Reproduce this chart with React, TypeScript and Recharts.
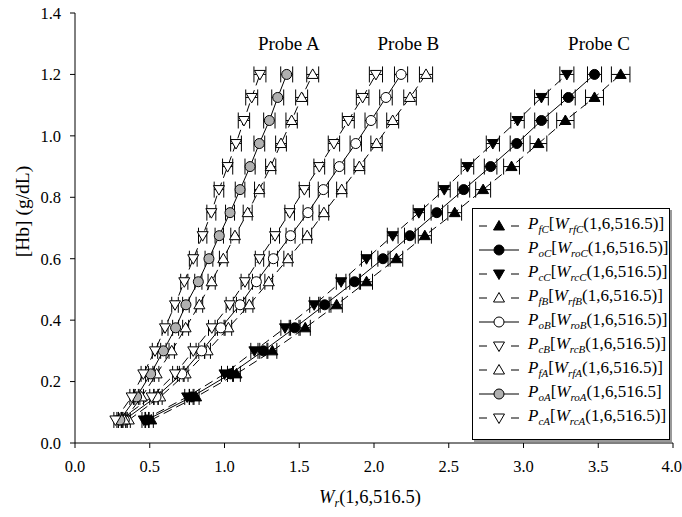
import React from 'react';
import { ScatterChart, Scatter, XAxis, YAxis, ErrorBar, Legend, ReferenceDot } from 'recharts';

const FONT = "'Liberation Serif', 'Times New Roman', serif";

// [Hb] levels (g/dL)
const hbLevels = [0.075, 0.15, 0.225, 0.3, 0.375, 0.45, 0.525, 0.6, 0.675, 0.75, 0.825, 0.9, 0.975, 1.05, 1.125, 1.2];

// Probe C
const wrfC = [0.51, 0.81, 1.08, 1.32, 1.54, 1.75, 1.95, 2.15, 2.34, 2.54, 2.73, 2.92, 3.10, 3.28, 3.475, 3.65];
const wroC = [0.48, 0.78, 1.04, 1.26, 1.47, 1.67, 1.87, 2.06, 2.24, 2.42, 2.60, 2.78, 2.955, 3.12, 3.30, 3.475];
const wrcC = [0.46, 0.75, 1.00, 1.20, 1.405, 1.60, 1.78, 1.95, 2.125, 2.30, 2.47, 2.625, 2.795, 2.96, 3.12, 3.29];
// Probe B
const wrfB = [0.36, 0.57, 0.74, 0.887, 1.026, 1.166, 1.296, 1.425, 1.553, 1.665, 1.784, 1.902, 2.017, 2.125, 2.241, 2.348];
const wroB = [0.33, 0.542, 0.714, 0.847, 0.975, 1.104, 1.213, 1.327, 1.442, 1.558, 1.661, 1.768, 1.878, 1.98, 2.08, 2.181];
const wrcB = [0.30, 0.513, 0.669, 0.791, 0.915, 1.035, 1.137, 1.234, 1.338, 1.436, 1.534, 1.634, 1.732, 1.828, 1.924, 2.013];
// Probe A
const wrfA = [0.33, 0.446, 0.546, 0.647, 0.74, 0.832, 0.914, 0.992, 1.07, 1.155, 1.233, 1.309, 1.378, 1.449, 1.516, 1.59];
const wroA = [0.30, 0.412, 0.506, 0.591, 0.673, 0.742, 0.825, 0.896, 0.965, 1.037, 1.104, 1.171, 1.233, 1.30, 1.356, 1.416];
const wrcA = [0.27, 0.379, 0.457, 0.535, 0.602, 0.669, 0.731, 0.791, 0.854, 0.912, 0.963, 1.021, 1.077, 1.13, 1.182, 1.237];

// horizontal error half-widths
const errA = [0.01, 0.012, 0.015, 0.018, 0.02, 0.022, 0.024, 0.026, 0.028, 0.03, 0.032, 0.034, 0.036, 0.038, 0.04, 0.04];
const errB = [0.01, 0.013, 0.016, 0.019, 0.022, 0.024, 0.026, 0.028, 0.03, 0.032, 0.034, 0.036, 0.038, 0.04, 0.042, 0.044];
const errC = [0.012, 0.016, 0.02, 0.024, 0.028, 0.03, 0.032, 0.034, 0.036, 0.038, 0.04, 0.042, 0.044, 0.045, 0.046, 0.047];
const errCf = [0.014, 0.02, 0.026, 0.03, 0.034, 0.038, 0.04, 0.042, 0.044, 0.046, 0.05, 0.053, 0.056, 0.058, 0.06, 0.062];

const xTicks = [0, 0.5, 1, 1.5, 2, 2.5, 3, 3.5, 4];
const yTicks = [0, 0.2, 0.4, 0.6, 0.8, 1.0, 1.2, 1.4];

const probeNames = ['Probe A', 'Probe B', 'Probe C'];
const probeLabelX = [1.43, 2.23, 3.505];
const probeLabelY = 1.30;

const legendSubs = ['fC', 'oC', 'cC', 'fB', 'oB', 'cB', 'fA', 'oA', 'cA'];
const legendTails = ['(1,6,516.5)]', '(1,6,516.5)]', '(1,6,516.5)]', '(1,6,516.5)]', '(1,6,516.5)]', '(1,6,516.5)]', '(1,6,516.5)]', '(1,6,516.5]', '(1,6,516.5)]'];

type Kind = 'up' | 'down' | 'circle';

const seriesDefs: { xs: number[]; err: number[]; kind: Kind; fill: string; dashed: boolean }[] = [
  { xs: wrfC, err: errCf, kind: 'up', fill: '#000', dashed: true },
  { xs: wroC, err: errC, kind: 'circle', fill: '#000', dashed: false },
  { xs: wrcC, err: errC, kind: 'down', fill: '#000', dashed: true },
  { xs: wrfB, err: errB, kind: 'up', fill: '#fff', dashed: true },
  { xs: wroB, err: errB, kind: 'circle', fill: '#fff', dashed: false },
  { xs: wrcB, err: errB, kind: 'down', fill: '#fff', dashed: true },
  { xs: wrfA, err: errA, kind: 'up', fill: '#fff', dashed: true },
  { xs: wroA, err: errA, kind: 'circle', fill: '#b0b0b0', dashed: false },
  { xs: wrcA, err: errA, kind: 'down', fill: '#fff', dashed: true },
];

function Marker({ cx, cy, kind, fill }: { cx: number; cy: number; kind: Kind; fill: string }) {
  if (cx == null || cy == null || isNaN(cx) || isNaN(cy)) return null;
  if (kind === 'circle') {
    return <circle cx={cx} cy={cy} r={5} fill={fill} stroke="#000" strokeWidth={1} />;
  }
  const pts =
    kind === 'up'
      ? `${cx},${cy - 5.5} ${cx + 5.5},${cy + 4} ${cx - 5.5},${cy + 4}`
      : `${cx},${cy + 5.5} ${cx + 5.5},${cy - 4} ${cx - 5.5},${cy - 4}`;
  return <polygon points={pts} fill={fill} stroke="#000" strokeWidth={1} />;
}

const XTitle = () => (
  <text x={370} y={503} textAnchor="middle" fontFamily={FONT} fontSize={18.5} fill="#000">
    <tspan fontStyle="italic">W</tspan>
    <tspan fontSize={12} dy={4} fontStyle="italic">r</tspan>
    <tspan dy={-4}>(1,6,516.5)</tspan>
  </text>
);

const YTitle = () => (
  <text
    x={22}
    y={211.5}
    transform="rotate(-90, 22, 211.5)"
    textAnchor="middle"
    dominantBaseline="central"
    fontFamily={FONT}
    fontSize={19.5}
    fill="#000"
  >
    [Hb] (g/dL)
  </text>
);

const renderLegend = () => (
  <div
    style={{
      width: 198,
      height: 232,
      boxSizing: 'border-box',
      border: '1px solid #000',
      boxShadow: '2px 2px 0 #999',
      background: '#fff',
      paddingTop: 5,
      paddingLeft: 4,
      fontFamily: FONT,
      fontSize: 17,
      color: '#000',
    }}
  >
    {seriesDefs.map((s, i) => (
      <div key={i} style={{ height: 24, display: 'flex', alignItems: 'center', whiteSpace: 'nowrap' }}>
        <svg width={44} height={24} style={{ flex: 'none' }}>
          {s.dashed ? (
            <g stroke="#000" strokeWidth={1}>
              <line x1={2} y1={12} x2={10} y2={12} />
              <line x1={34} y1={12} x2={42} y2={12} />
            </g>
          ) : (
            <line x1={2} y1={12} x2={42} y2={12} stroke="#000" strokeWidth={1} />
          )}
          <Marker cx={22} cy={12} kind={s.kind} fill={s.fill} />
        </svg>
        <span style={{ marginLeft: 7, lineHeight: '24px' }}>
          <i>P</i>
          <i style={{ fontSize: 11, verticalAlign: '-4px' }}>{legendSubs[i]}</i>
          [<i>W</i>
          <i style={{ fontSize: 11, verticalAlign: '-4px' }}>{'r' + legendSubs[i]}</i>
          {legendTails[i]}
        </span>
      </div>
    ))}
  </div>
);

export default function App() {
  return (
    <div style={{ position: 'absolute', left: 0, top: 0, width: 682, height: 517, background: '#fff' }}>
      <ScatterChart width={682} height={517} margin={{ top: 13, right: 9, bottom: 14, left: 15 }}>
        <XAxis
          type="number"
          dataKey="x"
          domain={[0, 4]}
          ticks={xTicks}
          allowDataOverflow
          tickFormatter={(v: number) => v.toFixed(1)}
          height={60}
          tickSize={5}
          tickMargin={12}
          axisLine={{ stroke: '#000' }}
          tickLine={{ stroke: '#000' }}
          tick={{ fill: '#000', fontSize: 16.5, fontFamily: FONT }}
          label={<XTitle />}
        />
        <YAxis
          type="number"
          dataKey="y"
          domain={[0, 1.4]}
          ticks={yTicks}
          allowDataOverflow
          tickFormatter={(v: number) => v.toFixed(1)}
          width={60}
          tickSize={5}
          tickMargin={9}
          axisLine={{ stroke: '#000' }}
          tickLine={{ stroke: '#000' }}
          tick={{ fill: '#000', fontSize: 16.5, fontFamily: FONT }}
          label={<YTitle />}
        />
        {seriesDefs.map((s, i) => (
          <Scatter
            key={i}
            name={legendSubs[i]}
            data={hbLevels.map((y, j) => ({ x: s.xs[j], y, e: s.err[j] }))}
            line={{ stroke: '#000', strokeWidth: 1, strokeDasharray: s.dashed ? '9 5' : undefined }}
            lineType="joint"
            isAnimationActive={false}
            shape={(p: any) => <Marker cx={p.cx} cy={p.cy} kind={s.kind} fill={s.fill} />}
          >
            <ErrorBar dataKey="e" direction="x" width={8} stroke="#000" strokeWidth={1} isAnimationActive={false} />
          </Scatter>
        ))}
        {probeNames.map((n, i) => (
          <ReferenceDot
            key={n}
            x={probeLabelX[i]}
            y={probeLabelY}
            r={0}
            fill="none"
            stroke="none"
            isFront
            label={{ value: n, position: 'center', fill: '#000', fontSize: 19, fontFamily: FONT }}
          />
        ))}
        <Legend
          layout="vertical"
          align="center"
          verticalAlign="middle"
          content={renderLegend}
          wrapperStyle={{ left: 472, top: 208, width: 198, height: 232 }}
        />
      </ScatterChart>
    </div>
  );
}
